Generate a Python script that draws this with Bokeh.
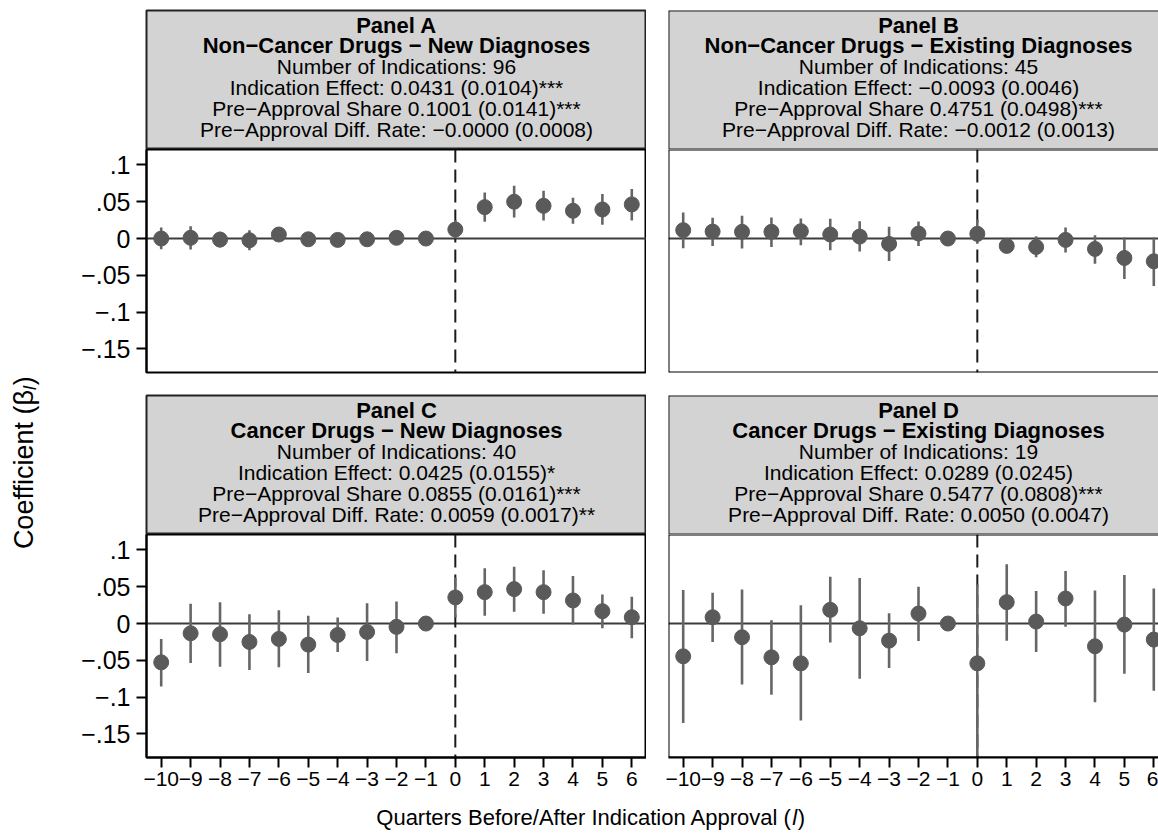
import math
from bokeh.plotting import figure
from bokeh.models import Range1d, Span, Label, FixedTicker, ColumnDataSource
from bokeh.layouts import row, column
from bokeh.embed import file_html
from bokeh.resources import INLINE

# ---------------- data ----------------
quarters = list(range(-10, 7))
x_tick_labels = ["−10", "−9", "−8", "−7", "−6", "−5", "−4", "−3", "−2", "−1",
                 "0", "1", "2", "3", "4", "5", "6"]
y_ticks = [0.1, 0.05, 0.0, -0.05, -0.1, -0.15]
y_tick_labels = [".1", ".05", "0", "−.05", "−.1", "−.15"]

a_coef = [0.000, 0.001, -0.0014, -0.0023, 0.0055, -0.001, -0.0018, -0.001, 0.001, 0.0,
          0.0123, 0.0427, 0.050, 0.0445, 0.0377, 0.0395, 0.0464]
a_lo = [-0.0145, -0.015, -0.0123, -0.016, -0.002, -0.008, -0.009, -0.008, -0.006, 0.0,
        0.0, 0.0227, 0.0286, 0.0245, 0.020, 0.0186, 0.0245]
a_hi = [0.015, 0.0168, 0.0091, 0.0114, 0.013, 0.006, 0.0055, 0.006, 0.008, 0.0,
        0.025, 0.0627, 0.0718, 0.065, 0.0555, 0.0605, 0.0673]

b_coef = [0.0114, 0.0095, 0.0091, 0.0091, 0.010, 0.0055, 0.0027, -0.0073, 0.0068, 0.0,
          0.0064, -0.010, -0.0114, -0.0018, -0.0141, -0.0264, -0.0309]
b_lo = [-0.0132, -0.010, -0.0136, -0.0114, -0.0091, -0.0159, -0.0177, -0.0305, -0.010, 0.0,
        -0.007, -0.018, -0.0255, -0.0191, -0.0341, -0.055, -0.0645]
b_hi = [0.0355, 0.0282, 0.0309, 0.0286, 0.0273, 0.0268, 0.0236, 0.0159, 0.0232, 0.0,
        0.026, -0.002, 0.0032, 0.015, 0.0045, 0.0014, 0.0014]

c_coef = [-0.0527, -0.0132, -0.0145, -0.025, -0.0209, -0.0286, -0.0155, -0.0114, -0.0045, 0.0,
          0.0355, 0.0427, 0.0468, 0.0427, 0.0314, 0.0168, 0.0086]
c_lo = [-0.0855, -0.0536, -0.0586, -0.0632, -0.0595, -0.0673, -0.0386, -0.0509, -0.0405, 0.0,
        0.0083, 0.0105, 0.0159, 0.0132, -0.0014, -0.0064, -0.020]
c_hi = [-0.0209, 0.0268, 0.0291, 0.0127, 0.0182, 0.0105, 0.0082, 0.0277, 0.030, 0.0,
        0.0627, 0.075, 0.0773, 0.0723, 0.0645, 0.0395, 0.0364]

d_coef = [-0.0445, 0.0086, -0.0186, -0.0459, -0.0541, 0.0186, -0.0064, -0.0232, 0.0136, 0.0,
          -0.0541, 0.0291, 0.0027, 0.0341, -0.0309, -0.0014, -0.0218]
d_lo = [-0.135, -0.025, -0.0827, -0.0968, -0.1318, -0.0259, -0.075, -0.0605, -0.0236, 0.0,
        -0.19, -0.0232, -0.0386, -0.0045, -0.1068, -0.0682, -0.0914]
d_hi = [0.0455, 0.0418, 0.0464, 0.0045, 0.025, 0.0636, 0.0618, 0.0141, 0.050, 0.0,
        0.0532, 0.0805, 0.0441, 0.0714, 0.045, 0.0659, 0.0477]

panel_names = ["Panel A", "Panel B", "Panel C", "Panel D"]
panel_groups = ["Non−Cancer Drugs − New Diagnoses",
                "Non−Cancer Drugs − Existing Diagnoses",
                "Cancer Drugs − New Diagnoses",
                "Cancer Drugs − Existing Diagnoses"]
n_indications = [96, 45, 40, 19]
indication_effect = ["0.0431 (0.0104)***", "−0.0093 (0.0046)",
                     "0.0425 (0.0155)*", "0.0289 (0.0245)"]
pre_share = ["0.1001 (0.0141)***", "0.4751 (0.0498)***",
             "0.0855 (0.0161)***", "0.5477 (0.0808)***"]
pre_diff = ["−0.0000 (0.0008)", "−0.0012 (0.0013)",
            "0.0059 (0.0017)**", "0.0050 (0.0047)"]

# ---------------- style ----------------
FONT = "Liberation Sans"
DOT = "#5a5a5a"
BAR = "#666666"
HEAD_FILL = "#d3d3d3"
FW_L, FW_R, FH, HH = 500, 490, 223, 139
LEFT_B, GAP = 98, 22
TOP_M = 10
PX_PER_UNIT = FW_L / 17.0


def base_fig(**kw):
    p = figure(output_backend="svg", toolbar_location=None, title=None, **kw)
    p.min_border_right = 0
    p.background_fill_color = "white"
    p.border_fill_color = "white"
    return p


def make_header(i, left_col, top_row):
    fw = FW_L if left_col else FW_R
    h = base_fig(frame_width=fw, frame_height=HH,
                 x_range=Range1d(0, fw), y_range=Range1d(HH, 0),
                 x_axis_location=None, y_axis_location=None,
                 min_border_left=LEFT_B if left_col else GAP,
                 min_border_top=TOP_M if top_row else 1, min_border_bottom=0)
    h.background_fill_color = HEAD_FILL
    h.grid.visible = False
    if left_col:
        h.outline_line_color = "#222222"
        h.outline_line_width = 2
    else:
        h.outline_line_color = None
        for loc, dim in [(h.x_range.start, "height"), (0, "width"), (HH, "width")]:
            h.add_layout(Span(location=loc, dimension=dim, line_color="#222222", line_width=2))
    lines = [(panel_names[i], "bold"), (panel_groups[i], "bold"),
             ("Number of Indications: %d" % n_indications[i], "normal"),
             ("Indication Effect: " + indication_effect[i], "normal"),
             ("Pre−Approval Share " + pre_share[i], "normal"),
             ("Pre−Approval Diff. Rate: " + pre_diff[i], "normal")]
    for k, (t, st) in enumerate(lines):
        h.add_layout(Label(x=250, y=14.5 + 20.9 * k, text=t, text_font=FONT,
                           text_font_size="22px" if st == "bold" else "21px",
                           text_font_style=st, text_color="black",
                           text_align="center", text_baseline="middle"))
    return h


def style_axis(ax, size, standoff):
    ax.major_label_text_font = FONT
    ax.major_label_text_font_size = size
    ax.major_label_text_color = "black"
    ax.major_tick_out = 10
    ax.major_tick_in = 0
    ax.minor_tick_out = 0
    ax.minor_tick_in = 0
    ax.major_tick_line_width = 2
    ax.major_tick_line_color = "black"
    ax.axis_line_width = 2
    ax.axis_line_color = "black"
    ax.major_label_standoff = standoff


def make_plot(coef, lo, hi, left_col, bottom_row):
    fw = FW_L if left_col else FW_R
    x_end = -10.5 + fw / PX_PER_UNIT
    p = base_fig(frame_width=fw, frame_height=FH,
                 x_range=Range1d(-10.5, x_end), y_range=Range1d(-0.182, 0.121),
                 x_axis_location="below" if bottom_row else None,
                 y_axis_location="left" if left_col else None,
                 min_border_left=LEFT_B if left_col else GAP,
                 min_border_top=0, min_border_bottom=40 if bottom_row else 22)
    p.grid.visible = False
    src = ColumnDataSource(dict(x=quarters, y=coef, lo=lo, hi=hi))
    p.add_layout(Span(location=0, dimension="width", line_color="#3c3c3c",
                      line_width=2, level="underlay"))
    p.add_layout(Span(location=0, dimension="height", line_color="#1a1a1a",
                      line_width=2, line_dash="13 7", level="underlay"))
    p.segment(x0="x", y0="lo", x1="x", y1="hi", source=src, line_color=BAR, line_width=2.6)
    p.scatter(x="x", y="y", source=src, size=15, fill_color=DOT, line_color=DOT)
    if left_col:
        p.outline_line_color = "black"
        p.outline_line_width = 2
        ax = p.yaxis[0]
        ax.ticker = FixedTicker(ticks=y_ticks)
        ax.major_label_overrides = {t: l for t, l in zip(y_ticks, y_tick_labels)}
        style_axis(ax, "25px", 6)
        ax.major_label_orientation = "horizontal"
    else:
        p.outline_line_color = None
        for loc, dim in [(p.x_range.start, "height"), (p.y_range.end, "width"),
                         (p.y_range.start, "width")]:
            p.add_layout(Span(location=loc, dimension=dim, line_color="black", line_width=2))
    if bottom_row:
        ax = p.xaxis[0]
        ax.ticker = FixedTicker(ticks=quarters)
        ax.major_label_overrides = {q: l for q, l in zip(quarters, x_tick_labels)}
        style_axis(ax, "21px", 4)
    return p


hA = make_header(0, True, True)
hB = make_header(1, False, True)
hC = make_header(2, True, False)
hD = make_header(3, False, False)
pA = make_plot(a_coef, a_lo, a_hi, True, False)
pB = make_plot(b_coef, b_lo, b_hi, False, False)
pC = make_plot(c_coef, c_lo, c_hi, True, True)
pD = make_plot(d_coef, d_lo, d_hi, False, True)

# x-axis title
XT_W, XT_H = LEFT_B + FW_L + GAP + FW_R, 40
xt = base_fig(width=XT_W, height=XT_H, x_range=Range1d(0, XT_W), y_range=Range1d(XT_H, 0),
              x_axis_location=None, y_axis_location=None,
              min_border_left=0, min_border_top=0, min_border_bottom=0)
xt.outline_line_color = None
xt.grid.visible = False
xfs = 22
part1 = "Quarters Before/After Indication Approval ("
w1, wl, wr = 18.377 * xfs, 0.222 * xfs, 0.333 * xfs
xstart = 547.5 - (w1 + wl + wr) / 2
xt.add_layout(Label(x=xstart + w1, y=20, text=part1, text_font=FONT, text_font_size="%dpx" % xfs,
                    text_align="right", text_baseline="middle", text_color="black"))
xt.add_layout(Label(x=xstart + w1 + 0.3, y=20, text="l", text_font=FONT, text_font_size="%dpx" % xfs,
                    text_font_style="italic", text_align="left", text_baseline="middle",
                    text_color="black"))
xt.add_layout(Label(x=xstart + w1 + wl + 0.8, y=20, text=")", text_font=FONT,
                    text_font_size="%dpx" % xfs, text_align="left", text_baseline="middle",
                    text_color="black"))

# y-axis title
YT_W = 48
YT_H = (TOP_M + HH) + (FH + 22) + (1 + HH) + (FH + 40) + XT_H
yt = base_fig(width=YT_W, height=YT_H, x_range=Range1d(0, YT_W), y_range=Range1d(YT_H, 0),
              x_axis_location=None, y_axis_location=None,
              min_border_left=0, min_border_top=0, min_border_bottom=0)
yt.outline_line_color = None
yt.grid.visible = False
yfs = 27
w1y = 5.35 * yfs
ybottom = 455 + (w1y + 4.5 + 9) / 2
yanchor = ybottom - w1y
yt.add_layout(Label(x=23, y=yanchor, text="Coefficient (β", angle=math.pi / 2, text_font=FONT,
                    text_font_size="%dpx" % yfs, text_align="right", text_baseline="middle",
                    text_color="black"))
yt.add_layout(Label(x=29, y=yanchor, text="l", angle=math.pi / 2, text_font=FONT,
                    text_font_size="18px", text_font_style="italic", text_align="left",
                    text_baseline="middle", text_color="black"))
yt.add_layout(Label(x=23, y=yanchor - 4.8, text=")", angle=math.pi / 2, text_font=FONT,
                    text_font_size="%dpx" % yfs, text_align="left", text_baseline="middle",
                    text_color="black"))

layout = row(yt, column(row(hA, hB), row(pA, pB), row(hC, hD), row(pC, pD), xt))

open("out.html", "w").write(file_html(layout, INLINE, title="Indication approval event study"))
